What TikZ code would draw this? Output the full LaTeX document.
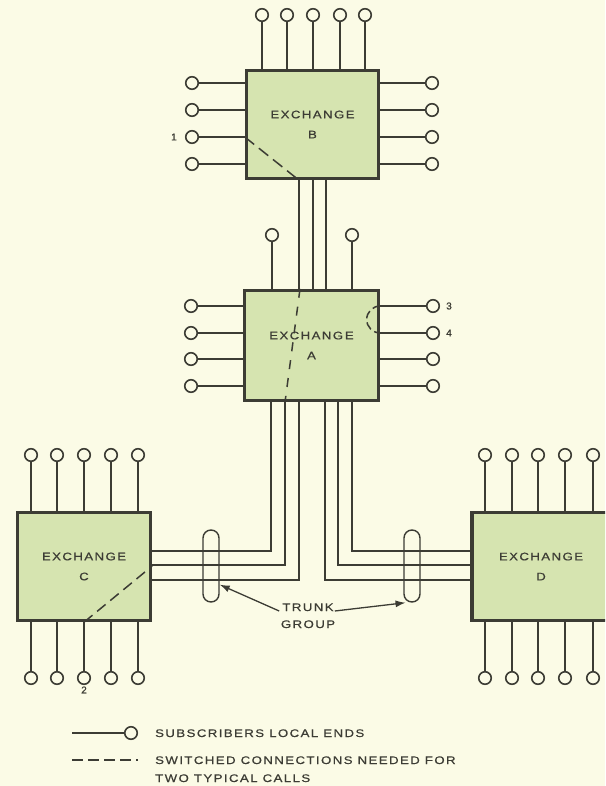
\documentclass[tikz,border=0pt]{standalone}
\usepackage{fontspec}
\setmainfont{Liberation Sans}
\newfontfamily\lsp{Liberation Sans}[LetterSpace=13,FakeStretch=1.2,FakeBold=0.6]
\newfontfamily\dig{Liberation Sans}[FakeBold=0.6]
\usetikzlibrary{arrows.meta}
\definecolor{bg}{HTML}{FBFBE6}
\definecolor{boxfill}{HTML}{D6E4B0}
\definecolor{ink}{HTML}{3C3C34}
\begin{document}
\begin{tikzpicture}[x=1pt,y=-1pt,
  wire/.style={draw=ink,line width=1.6pt},
  sub/.style={circle,draw=ink,fill=bg,line width=1.6pt,minimum size=12.5pt,inner sep=0pt},
  exch/.style={draw=ink,fill=boxfill,line width=3.4pt,inner sep=0pt,align=center,text=ink,
    font=\lsp\fontsize{11}{20}\selectfont},
  sw/.style={draw=ink,line width=1.5pt,dash pattern=on 12pt off 6pt},
  lbl/.style={font=\dig\fontsize{10}{11}\selectfont,text=ink,inner sep=0pt},
  txt/.style={font=\lsp\fontsize{11}{12}\selectfont,text=ink,inner sep=0pt},
  capsule/.style={draw=ink,line width=1.4pt,rounded corners=8pt,minimum width=16pt,minimum height=72pt,inner sep=0pt},
]
\clip (0,0) rectangle (605,786);
\fill[bg] (0,0) rectangle (605,786);

% exchanges
\node[exch,minimum width=132pt,minimum height=108pt] (B) at (312.5,124.5) {EXCHANGE\\B};
\node[exch,minimum width=134pt,minimum height=110pt] (A) at (311.5,345.5) {EXCHANG\,E\\A};
\node[exch,minimum width=133pt,minimum height=108pt] (C) at (84,566.5) {EXCHANGE\\C};
\node[exch,minimum width=138pt,minimum height=108pt] (D) at (541,566.5) {EXCHANGE\\D};

% exchange B subscribers
\foreach \x [count=\i] in {262,287,313,340,365} {
  \node[sub] (bt\i) at (\x,15) {};
  \draw[wire] (bt\i) -- (bt\i |- B.north);
}
\foreach \y [count=\i] in {83,110,137,164} {
  \node[sub] (bl\i) at (192,\y) {};
  \draw[wire] (bl\i) -- (bl\i -| B.west);
  \node[sub] (br\i) at (432,\y) {};
  \draw[wire] (br\i) -- (br\i -| B.east);
}
% exchange A subscribers
\foreach \x [count=\i] in {272,352} {
  \node[sub] (at\i) at (\x,235) {};
  \draw[wire] (at\i) -- (at\i |- A.north);
}
\foreach \y [count=\i] in {306,333,359,386} {
  \node[sub] (al\i) at (191,\y) {};
  \draw[wire] (al\i) -- (al\i -| A.west);
  \node[sub] (ar\i) at (433,\y) {};
  \draw[wire] (ar\i) -- (ar\i -| A.east);
}
% exchange C subscribers
\foreach \x [count=\i] in {31,57,84,111,138} {
  \node[sub] (ct\i) at (\x,455) {};
  \draw[wire] (ct\i) -- (ct\i |- C.north);
  \node[sub] (cb\i) at (\x,678) {};
  \draw[wire] (cb\i) -- (cb\i |- C.south);
}
% exchange D subscribers
\foreach \x [count=\i] in {485,512,538,565,593} {
  \node[sub] (dt\i) at (\x,455) {};
  \draw[wire] (dt\i) -- (dt\i |- D.north);
  \node[sub] (db\i) at (\x,678) {};
  \draw[wire] (db\i) -- (db\i |- D.south);
}

% trunks B - A
\foreach \x in {299,313,326}
  \draw[wire] (B.south -| \x,0) -- (A.north -| \x,0);
% trunks A - C
\draw[wire] (A.south -| 271,0) |- (C.east |- 0,551);
\draw[wire] (A.south -| 285,0) |- (C.east |- 0,565);
\draw[wire] (A.south -| 299,0) |- (C.east |- 0,580);
% trunks A - D
\draw[wire] (A.south -| 352,0) |- (D.west |- 0,551);
\draw[wire] (A.south -| 338,0) |- (D.west |- 0,565);
\draw[wire] (A.south -| 325,0) |- (D.west |- 0,580);

% switched connections
\draw[sw] (B.west |- bl3) -- (B.south -| 299,0);
\draw[sw,dash pattern=on 9pt off 9pt] (A.north -| 300,0) -- (A.south -| 285,0);
\draw[sw,dash pattern=on 8pt off 4pt] (A.east |- ar1) arc[start angle=270,end angle=90,radius=13.5];
\draw[sw,dash pattern=on 11pt off 6pt] (C.south -| cb3) -- (C.east |- 0,566);

% trunk groups
\node[capsule] (cl) at (211,566) {};
\node[capsule] (cr) at (412,566) {};
\node[txt,anchor=base] (tg1) at (308,611) {TRUNK};
\node[txt,anchor=base] (tg2) at (308,628) {GROUP};
\draw[wire,line width=1.3pt,-{Latex[length=10pt,width=7pt]}] (tg1.base west) ++(-3,0) coordinate (a1) -- (cl.-65);
\draw[wire,line width=1.3pt,-{Latex[length=10pt,width=7pt]}] (tg1.base east) ++(1,0) coordinate (a2) -- (cr.-100);

% numeric labels
\node[lbl] (n1) at (174,137) {1};
\node[lbl] (n3) at (449,306) {3};
\node[lbl] (n4) at (449,333) {4};
\node[lbl] (n2) at (84,690) {2};

% legend
\coordinate (l0) at (72,733);
\node[sub] (lc) at (131,733) {};
\draw[wire,line width=1.2pt] (l0) -- (lc);
\node[txt,anchor=base west] (lt1) at (155,737) {SUBSCRIBERS LOCAL ENDS};
\coordinate (d0) at (72,760);
\coordinate (d1) at (138,760);
\draw[wire,line width=1.2pt,dash pattern=on 11pt off 5pt] (d0) -- (d1);
\node[txt,anchor=base west] (lt2) at (155,764) {SWITCHED CONNECTIONS NEEDED FOR};
\node[txt,anchor=base west] (lt3) at (155,782) {TWO TYPICAL CALLS};
\end{tikzpicture}
\end{document}
